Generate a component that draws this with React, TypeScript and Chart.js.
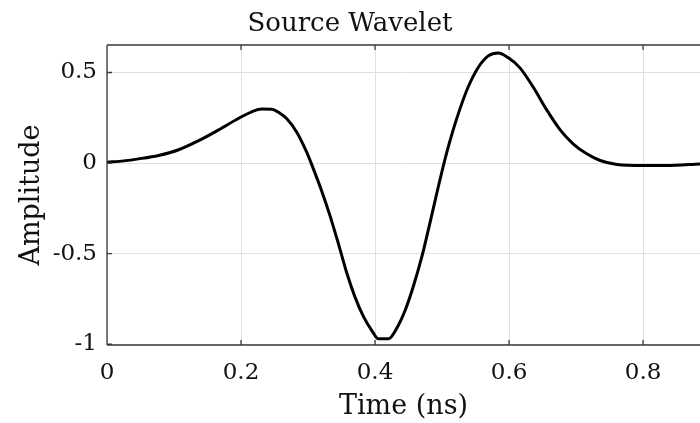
import { useEffect, useRef } from "react";
import { Chart, registerables } from "chart.js";

Chart.register(...registerables);

const timeNs = [
  0, 0.025, 0.047, 0.077, 0.106, 0.136, 0.166, 0.196, 0.216, 0.231, 0.246, 0.258,
  0.268, 0.283, 0.298, 0.308, 0.32, 0.333, 0.345, 0.358, 0.37, 0.383, 0.395, 0.405,
  0.42, 0.432, 0.445, 0.457, 0.47, 0.482, 0.494, 0.507, 0.517, 0.527, 0.539, 0.554,
  0.569, 0.584, 0.599, 0.616, 0.636, 0.656, 0.676, 0.696, 0.716, 0.736, 0.761, 0.8,
  0.835, 0.885,
];
const amplitude = [
  0.004, 0.012, 0.023, 0.042, 0.072, 0.122, 0.182, 0.246, 0.283, 0.298, 0.297, 0.275,
  0.246, 0.172, 0.06, -0.032, -0.15, -0.293, -0.441, -0.609, -0.739, -0.85, -0.924, -0.971,
  -0.971, -0.915, -0.813, -0.683, -0.516, -0.33, -0.138, 0.057, 0.187, 0.302, 0.42, 0.528,
  0.592, 0.608, 0.581, 0.527, 0.42, 0.295, 0.185, 0.105, 0.051, 0.014, -0.008, -0.014,
  -0.014, -0.005,
];
const xTicks = [0, 0.2, 0.4, 0.6, 0.8];
const yTicks = [-1, -0.5, 0, 0.5];
const titleText = "Source Wavelet";
const xLabel = "Time (ns)";
const yLabel = "Amplitude";

const FONT = "'DejaVu Serif', 'Liberation Serif', serif";
const TEXT = "#111111";
const AXIS = "#3a3a3a";
const GRID = "#e0e0e0";

const boxPlugin = {
  id: "matlabBox",
  afterDraw(chart: any) {
    const { ctx, chartArea, scales } = chart;
    const { left, right, top, bottom } = chartArea;
    const x = scales.x;
    const y = scales.y;
    ctx.save();
    ctx.strokeStyle = AXIS;
    ctx.lineWidth = 1.3;
    ctx.beginPath();
    ctx.moveTo(left, top);
    ctx.lineTo(right, top);
    ctx.moveTo(left, top);
    ctx.lineTo(left, bottom);
    ctx.moveTo(left, bottom);
    ctx.lineTo(right, bottom);
    for (const v of xTicks) {
      const px = x.getPixelForValue(v);
      ctx.moveTo(px, bottom);
      ctx.lineTo(px, bottom - 5);
      ctx.moveTo(px, top);
      ctx.lineTo(px, top + 5);
    }
    for (const v of yTicks) {
      const py = y.getPixelForValue(v);
      ctx.moveTo(left, py);
      ctx.lineTo(left + 5, py);
    }
    ctx.stroke();
    ctx.restore();
  },
};

export default function App() {
  const canvasRef = useRef<HTMLCanvasElement | null>(null);

  useEffect(() => {
    if (!canvasRef.current) return;
    const chart = new Chart(canvasRef.current, {
      type: "line",
      data: {
        datasets: [
          {
            data: timeNs.map((t, i) => ({ x: t, y: amplitude[i] })),
            borderColor: "#000000",
            borderWidth: 3,
            pointRadius: 0,
            cubicInterpolationMode: "monotone",
            fill: false,
          },
        ],
      },
      options: {
        animation: false,
        responsive: false,
        devicePixelRatio: 1,
        layout: { padding: 0 },
        plugins: {
          legend: { display: false },
          tooltip: { enabled: false },
          title: {
            display: true,
            text: titleText,
            color: TEXT,
            font: { family: FONT, size: 26, weight: "normal" },
            padding: { top: 8.4, bottom: 5.4 },
          },
        },
        scales: {
          x: {
            type: "linear",
            min: 0,
            max: 0.885,
            afterBuildTicks: (s: any) => {
              s.ticks = xTicks.map((v) => ({ value: v }));
            },
            afterFit: (s: any) => {
              s.height = 78;
            },
            grid: { color: GRID, lineWidth: 1, drawTicks: false },
            border: { display: false },
            ticks: {
              padding: 14,
              color: TEXT,
              font: { family: FONT, size: 23 },
              maxRotation: 0,
              autoSkip: false,
              callback: (v: any) => String(v),
            },
            title: {
              display: true,
              text: xLabel,
              color: TEXT,
              font: { family: FONT, size: 27 },
              padding: { top: 0, bottom: 0 },
            },
          },
          y: {
            type: "linear",
            min: -1.005,
            max: 0.652,
            afterBuildTicks: (s: any) => {
              s.ticks = yTicks.map((v) => ({ value: v }));
            },
            afterFit: (s: any) => {
              s.width = 107;
            },
            grid: { color: GRID, lineWidth: 1, drawTicks: false },
            border: { display: false },
            ticks: {
              padding: 10,
              color: TEXT,
              font: { family: FONT, size: 23 },
              autoSkip: false,
              callback: (v: any) => String(v),
            },
            title: {
              display: true,
              text: yLabel,
              color: TEXT,
              font: { family: FONT, size: 27 },
              padding: { top: 16, bottom: 0 },
            },
          },
        },
      },
      plugins: [boxPlugin],
    });
    return () => chart.destroy();
  }, []);

  return (
    <div style={{ position: "fixed", left: 0, top: 0, width: 700, height: 423, background: "#ffffff" }}>
      <canvas ref={canvasRef} width={700} height={423} style={{ display: "block" }} />
    </div>
  );
}
